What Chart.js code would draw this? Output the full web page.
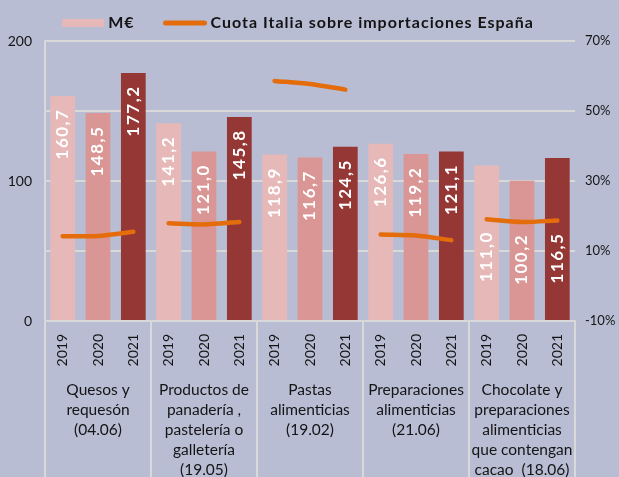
<!DOCTYPE html>
<html>
<head>
<meta charset="utf-8">
<script src="https://cdn.jsdelivr.net/npm/chart.js@4"></script>
<style>
  html, body { margin: 0; padding: 0; background: #b8bdd4; }
  #wrap { width: 619px; height: 477px; position: relative; }
</style>
</head>
<body>
<div id="wrap"><canvas id="chart"></canvas></div>
<script>
// years shown under each bar, one group per product
const years = ['2019', '2020', '2021'];
const categories = [
  ['Quesos y', 'requesón', '(04.06)'],
  ['Productos de', 'panadería ,', 'pastelería o', 'galletería', '(19.05)'],
  ['Pastas', 'alimenticias', '(19.02)'],
  ['Preparaciones', 'alimenticias', '(21.06)'],
  ['Chocolate y', 'preparaciones', 'alimenticias', 'que contengan', 'cacao  (18.06)']
];

// M€ per product and year
const mEuros2019 = [160.7, 141.2, 118.9, 126.6, 111.0];
const mEuros2020 = [148.5, 121.0, 116.7, 119.2, 100.2];
const mEuros2021 = [177.2, 145.8, 124.5, 121.1, 116.5];

// Cuota Italia sobre importaciones España (%)
const cuota2019 = [14.2, 17.9, 58.6, 14.7, 19.1];
const cuota2020 = [14.3, 17.6, 57.7, 14.4, 18.3];
const cuota2021 = [15.5, 18.3, 56.1, 13.1, 18.7];

const leftTicks = [0, 100, 200];

const yearColors = ['#e6b9b8', '#d99694', '#953735'];
const orange = '#e46c0a';
const gridColor = '#d9d9d9';
const textColor = '#141414';
const FONT = 'Lato, "DejaVu Sans", sans-serif';
const LINE_LABEL = 'Cuota Italia sobre importaciones España';

// flatten groups into 15 bar slots
const labels = categories.flatMap(() => years);
const barValues = categories.flatMap((_, i) => [mEuros2019[i], mEuros2020[i], mEuros2021[i]]);
const barColors = labels.map((_, i) => yearColors[i % 3]);

const groupOf = i => Math.floor(i / 3);

// one line per product group, nulls elsewhere so the curves stay separate
const lineSets = categories.map((_, g) => ({
  type: 'line',
  label: LINE_LABEL,
  data: labels.map((_, i) => {
    if (groupOf(i) !== g) return null;
    return [cuota2019, cuota2020, cuota2021][i % 3][g];
  }),
  yAxisID: 'y1',
  borderColor: orange,
  borderWidth: 4.5,
  borderCapStyle: 'round',
  tension: 0.3,
  pointRadius: 0,
  fill: false,
  spanGaps: false,
  order: 1
}));

// value labels inside the bars, rotated
const barLabels = {
  id: 'barLabels',
  afterDatasetsDraw(chart) {
    const ctx = chart.ctx;
    const bars = chart.getDatasetMeta(0).data;
    ctx.save();
    ctx.font = 'bold 17px ' + FONT;
    ctx.letterSpacing = '1.5px';
    ctx.fillStyle = '#ffffff';
    ctx.textAlign = 'center';
    ctx.textBaseline = 'middle';
    bars.forEach((bar, i) => {
      const txt = barValues[i].toFixed(1).replace('.', ',');
      const half = ctx.measureText(txt).width / 2;
      let cy = bar.y + 38;
      const ly = chart.getDatasetMeta(1 + groupOf(i)).data[i].y;
      // keep the label off the share line
      if (cy + half > ly - 4 && cy - half < ly + 4) cy = ly + 12 + half;
      ctx.save();
      ctx.translate(bar.x, cy);
      ctx.rotate(-Math.PI / 2);
      ctx.fillText(txt, 0, 0);
      ctx.restore();
    });
    ctx.restore();
  }
};

// group separators and product names below the year ticks
const groupAxis = {
  id: 'groupAxis',
  afterDraw(chart) {
    const ctx = chart.ctx;
    const x = chart.scales.x;
    const slot = (x.right - x.left) / labels.length;
    const bottom = chart.chartArea.bottom;
    ctx.save();
    ctx.strokeStyle = gridColor;
    ctx.lineWidth = 2;
    for (let g = 0; g <= categories.length; g++) {
      const px = Math.round(x.left + g * 3 * slot);
      ctx.beginPath();
      ctx.moveTo(px, bottom);
      ctx.lineTo(px, chart.height);
      ctx.stroke();
    }
    ctx.fillStyle = textColor;
    ctx.font = '15.5px ' + FONT;
    ctx.textAlign = 'center';
    ctx.textBaseline = 'middle';
    categories.forEach((lines, g) => {
      const cx = x.left + (g * 3 + 1.5) * slot;
      lines.forEach((line, k) => ctx.fillText(line, cx, bottom + 69 + k * 20));
    });
    ctx.restore();
  }
};

// legend drawn by hand: box for bars, thick line for the share
const topLegend = {
  id: 'topLegend',
  afterDraw(chart) {
    const ctx = chart.ctx;
    const ds = chart.data.datasets;
    const y = 23;
    ctx.save();
    ctx.font = 'bold 16px ' + FONT;
    ctx.letterSpacing = '1px';
    ctx.textBaseline = 'middle';
    const w0 = ctx.measureText(ds[0].label).width;
    const w1 = ctx.measureText(ds[1].label).width;
    const total = 42 + 4 + w0 + 29 + 43 + 4 + w1;
    let cx = 298 - total / 2;
    ctx.fillStyle = yearColors[0];
    ctx.fillRect(cx, y - 4, 42, 8);
    cx += 46;
    ctx.fillStyle = textColor;
    ctx.fillText(ds[0].label, cx, y);
    cx += w0 + 29;
    ctx.strokeStyle = orange;
    ctx.lineWidth = 5;
    ctx.lineCap = 'round';
    ctx.beginPath();
    ctx.moveTo(cx + 2, y);
    ctx.lineTo(cx + 41, y);
    ctx.stroke();
    cx += 47;
    ctx.fillText(ds[1].label, cx, y);
    ctx.restore();
  }
};

new Chart(document.getElementById('chart'), {
  data: {
    labels,
    datasets: [
      {
        type: 'bar',
        label: 'M€',
        data: barValues,
        backgroundColor: barColors,
        yAxisID: 'y',
        barPercentage: 0.7,
        categoryPercentage: 1.0,
        order: 2
      },
      ...lineSets
    ]
  },
  options: {
    responsive: true,
    maintainAspectRatio: false,
    devicePixelRatio: 1,
    animation: false,
    layout: { padding: { top: 41, left: 0, right: 0, bottom: 0 } },
    plugins: {
      legend: { display: false },
      tooltip: { enabled: false }
    },
    scales: {
      x: {
        ticks: {
          minRotation: 90, maxRotation: 90, autoSkip: false, padding: 13,
          color: textColor, font: { family: FONT, size: 14 }
        },
        grid: { drawOnChartArea: false, drawTicks: false },
        border: { color: gridColor, width: 2 },
        afterFit: s => { s.height = 156; }
      },
      y: {
        position: 'left',
        min: 0, max: 200,
        ticks: {
          stepSize: 50, padding: 13, color: textColor, font: { family: FONT, size: 14 },
          callback: v => leftTicks.includes(v) ? v : ''
        },
        grid: { color: gridColor, lineWidth: 2, drawTicks: false },
        border: { color: gridColor, width: 2 },
        afterFit: s => { s.width = 45; }
      },
      y1: {
        position: 'right',
        min: -10, max: 70,
        ticks: {
          stepSize: 20, padding: 10, color: textColor, font: { family: FONT, size: 13 },
          callback: v => v + '%'
        },
        grid: { drawOnChartArea: false, drawTicks: false },
        border: { display: false },
        afterFit: s => { s.width = 44; }
      }
    }
  },
  plugins: [barLabels, groupAxis, topLegend]
});
</script>
</body>
</html>
